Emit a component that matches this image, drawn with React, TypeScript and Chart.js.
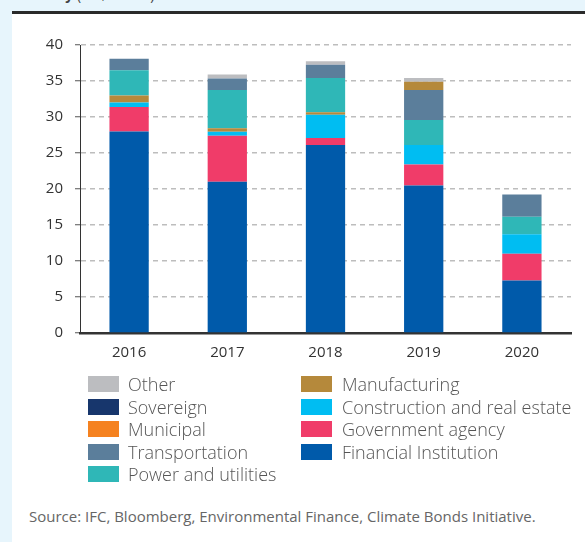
import React, { useEffect, useRef } from "react";
import { Chart, registerables } from "chart.js";

Chart.register(...registerables);

// ---- Data (US$ billion) ----
const years = ["2016", "2017", "2018", "2019", "2020"];
const financialInstitution = [28.0, 21.0, 26.1, 20.5, 7.3];
const governmentAgency = [3.4, 6.4, 1.0, 2.9, 3.7];
const constructionRealEstate = [0.6, 0.55, 3.2, 2.7, 2.7];
const municipal = [0, 0, 0, 0, 0];
const sovereign = [0, 0, 0, 0, 0];
const manufacturing = [1.0, 0.5, 0.35, 0, 0];
const powerUtilities = [3.5, 5.3, 4.75, 3.5, 2.45];
const transportation = [1.6, 1.6, 1.85, 4.15, 3.1];
const manufacturingStackedTop = [0, 0, 0, 1.15, 0]; // 2019 manufacturing sits above transportation
const other = [0, 0.55, 0.5, 0.5, 0];
const yTicks = [0, 5, 10, 15, 20, 25, 30, 35, 40];

const colors: Record<string, string> = {
  "Other": "#bcbdc0",
  "Sovereign": "#17366c",
  "Municipal": "#f58220",
  "Transportation": "#5b7e9b",
  "Power and utilities": "#2fb7b7",
  "Manufacturing": "#b5893b",
  "Construction and real estate": "#00bdf2",
  "Government agency": "#f03c69",
  "Financial Institution": "#005aaa",
};

const legendLeft = ["Other", "Sovereign", "Municipal", "Transportation", "Power and utilities"];
const legendRight = ["Manufacturing", "Construction and real estate", "Government agency", "Financial Institution"];

const FONT = "'Open Sans', 'DejaVu Sans', sans-serif";

function ChartCanvas() {
  const ref = useRef<HTMLCanvasElement | null>(null);
  useEffect(() => {
    if (!ref.current) return;
    const mk = (label: string, data: number[], key?: string) => ({
      label,
      data,
      backgroundColor: colors[key || label],
      borderWidth: 0,
      categoryPercentage: 1,
      barPercentage: 0.4,
      stack: "s",
    });
    const chart = new Chart(ref.current, {
      type: "bar",
      data: {
        labels: years,
        datasets: [
          mk("Financial Institution", financialInstitution),
          mk("Government agency", governmentAgency),
          mk("Construction and real estate", constructionRealEstate),
          mk("Municipal", municipal),
          mk("Sovereign", sovereign),
          mk("Manufacturing", manufacturing),
          mk("Power and utilities", powerUtilities),
          mk("Transportation", transportation),
          mk("Manufacturing ", manufacturingStackedTop, "Manufacturing"),
          mk("Other", other),
        ],
      },
      options: {
        responsive: false,
        animation: false,
        layout: { padding: { top: 31, right: 14, left: 0, bottom: 0 } },
        plugins: { legend: { display: false }, tooltip: { enabled: false } },
        scales: {
          x: {
            stacked: true,
            grid: { display: false, drawTicks: false },
            border: { display: true, color: "#333333", width: 2.5 },
            ticks: { color: "#333333", font: { family: FONT, size: 15 }, padding: 11 },
            afterFit: (s: any) => { s.height = 41; },
          },
          y: {
            stacked: true,
            min: 0,
            max: 40,
            afterBuildTicks: (s: any) => { s.ticks = yTicks.map((v) => ({ value: v })); },
            grid: { color: "#bdbdbd", lineWidth: 1.5, tickLength: 5, tickColor: "#555555", tickWidth: 1 },
            border: { display: true, color: "#333333", width: 1, dash: [5, 4] },
            ticks: { color: "#333333", font: { family: FONT, size: 15 }, padding: 12 },
            afterFit: (s: any) => { s.width = 68; },
          },
        },
      } as any,
    });
    return () => chart.destroy();
  }, []);
  return <canvas ref={ref} width={573} height={360} style={{ position: "absolute", left: 0, top: 0, width: 573, height: 360 }} />;
}

function LegendCol({ items, boxLeft, textLeft }: { items: string[]; boxLeft: number; textLeft: number }) {
  return (
    <>
      {items.map((name, i) => {
        const top = 362 + i * 22.5;
        return (
          <React.Fragment key={name}>
            <div style={{ position: "absolute", left: boxLeft, top, width: 31, height: 16, background: colors[name] }} />
            <div style={{ position: "absolute", left: textLeft, top: top - 4, fontSize: 18, lineHeight: "24px", color: "#555555", fontWeight: 300, whiteSpace: "nowrap" }}>{name}</div>
          </React.Fragment>
        );
      })}
    </>
  );
}

export default function App() {
  return (
    <div style={{ position: "fixed", left: 0, top: 0, width: 585, height: 542, overflow: "hidden", background: "#e7f5fc", fontFamily: FONT }}>
      <div style={{ position: "absolute", left: 14, top: -14, fontSize: 14, lineHeight: "17px", color: "#444", whiteSpace: "nowrap" }}>
        <b>Industry</b> (US$ billion)
      </div>
      <div style={{ position: "absolute", left: 12, top: 11, right: 0, height: 3, background: "#2a2a2a" }} />
      <div style={{ position: "absolute", left: 12, top: 14, right: 0, bottom: 0, background: "#ffffff" }}>
        <ChartCanvas />
        <LegendCol items={legendLeft} boxLeft={76} textLeft={116} />
        <LegendCol items={legendRight} boxLeft={289} textLeft={330} />
        <div style={{ position: "absolute", left: 17, top: 492, fontSize: 15, lineHeight: "20px", color: "#666666", whiteSpace: "nowrap" }}>
          Source: IFC, Bloomberg, Environmental Finance, Climate Bonds Initiative.
        </div>
      </div>
    </div>
  );
}
